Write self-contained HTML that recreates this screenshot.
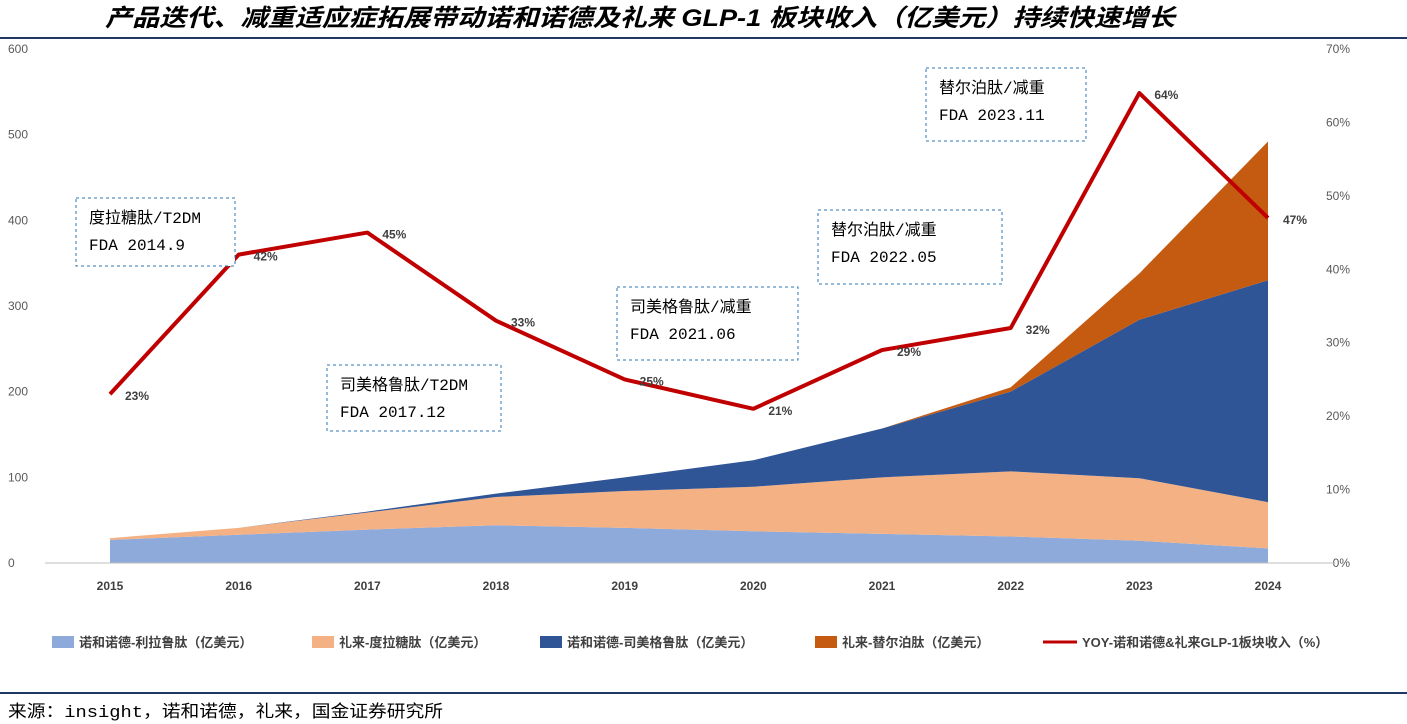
<!DOCTYPE html>
<html><head><meta charset="utf-8"><style>
body{margin:0;background:#fff;font-family:"Liberation Sans","Noto Sans CJK SC",sans-serif;}
#wrap{position:relative;width:1407px;height:724px;overflow:hidden;}
</style></head><body>
<div id="wrap">
<svg id="c" width="1407" height="724"></svg>
</div>
<script>
const years=["2015","2016","2017","2018","2019","2020","2021","2022","2023","2024"];
const lira=[27,33,39,44,41,37,34,31,26,17];
const dula=[2,8,20,33,43,52,66,76,73,54];
const sema=[0,0,1,4,16,31,57,93,185,259];
const tirz=[0,0,0,0,0,0,0,5,54,162];
const yoy=[23,42,45,33,25,21,29,32,64,47];
const leftTicks=[0,100,200,300,400,500,600];
const rightTicks=[0,10,20,30,40,50,60,70];
const seriesNames=["诺和诺德-利拉鲁肽（亿美元）","礼来-度拉糖肽（亿美元）","诺和诺德-司美格鲁肽（亿美元）","礼来-替尔泊肽（亿美元）","YOY-诺和诺德&礼来GLP-1板块收入（%）"];
const colors=["#8eaadb","#f4b183","#2f5597","#c55a11","#c00000"];
const notes=[["度拉糖肽/T2DM","FDA 2014.9",76,198,159,68],["司美格鲁肽/T2DM","FDA 2017.12",327,365,174,66],["司美格鲁肽/减重","FDA 2021.06",617,287,181,73],["替尔泊肽/减重","FDA 2022.05",818,210,184,74],["替尔泊肽/减重","FDA 2023.11",926,68,160,73]];
const NS="http://www.w3.org/2000/svg",svg=document.getElementById('c');
function el(t,a,txt){const e=document.createElementNS(NS,t);for(const k in a)e.setAttribute(k,a[k]);if(txt!==undefined)e.textContent=txt;svg.appendChild(e);return e;}
const x0=110,dx=(1268-110)/9,y0=563,plotTop=49;
const X=i=>x0+i*dx, YL=v=>y0-v*(y0-plotTop)/600, YR=p=>y0-p*(y0-plotTop)/70;
let t=el('text',{x:105,y:26,'font-size':24,'font-weight':'bold','font-style':'italic',fill:'#000',textLength:1070,lengthAdjust:'spacingAndGlyphs'},"产品迭代、减重适应症拓展带动诺和诺德及礼来 GLP-1 板块收入（亿美元）持续快速增长");


el('line',{x1:0,y1:38,x2:1407,y2:38,stroke:'#1f3864','stroke-width':2});
leftTicks.forEach(v=>{const e=el('text',{x:8,y:YL(v)+4,'font-size':12,fill:'#595959'},v);

});
rightTicks.forEach(v=>{const e=el('text',{x:1350,y:YR(v)+4,'font-size':12,fill:'#595959','text-anchor':'end'},v+'%');

});
const stacks=[lira,dula,sema,tirz];let base=years.map(()=>0);
stacks.forEach((s,k)=>{const topv=base.map((b,i)=>b+s[i]);let d='M'+years.map((_,i)=>X(i)+','+YL(topv[i])).join('L');for(let i=years.length-1;i>=0;i--)d+='L'+X(i)+','+YL(base[i]);d+='Z';const p=el('path',{d,fill:colors[k]});

base=topv;});
el('line',{x1:45,y1:y0,x2:1335,y2:y0,stroke:'#bfbfbf'});
years.forEach((y,i)=>{const e=el('text',{x:X(i),y:590,'font-size':12,'font-weight':'bold',fill:'#404040','text-anchor':'middle'},y);

});
const ln=el('polyline',{points:yoy.map((v,i)=>X(i)+','+YR(v)).join(' '),fill:'none',stroke:colors[4],'stroke-width':4,'stroke-linejoin':'round'});


yoy.forEach((v,i)=>{const e=el('text',{x:X(i)+15,y:YR(v)+6,'font-size':12,'font-weight':'bold',fill:'#404040'},v+'%');

});
notes.forEach(n=>{const r=el('rect',{x:n[2],y:n[3],width:n[4],height:n[5],fill:'#fff',stroke:'#2e75b6','stroke-dasharray':'3,3'});


el('text',{x:n[2]+13,y:n[3]+25,'font-size':16,fill:'#000',"font-family":"Liberation Mono, Noto Sans CJK SC, monospace"},n[0]);el('text',{x:n[2]+13,y:n[3]+52,'font-size':16,fill:'#000',"font-family":"Liberation Mono, Noto Sans CJK SC, monospace"},n[1]);});
const lx=[52,312,540,815,1043];
seriesNames.forEach((s,k)=>{let m;if(k<4)m=el('rect',{x:lx[k],y:636,width:22,height:12,fill:colors[k]});else m=el('line',{x1:lx[k],y1:642,x2:lx[k]+34,y2:642,stroke:colors[4],'stroke-width':3});


const e=el('text',{x:lx[k]+(k<4?27:39),y:647,'font-size':13,'font-weight':'bold',fill:'#404040'},s);

});
el('line',{x1:0,y1:693,x2:1407,y2:693,stroke:'#1f3864','stroke-width':2});
const src=el('text',{x:8,y:717,'font-size':17,fill:'#000',textLength:435,lengthAdjust:'spacingAndGlyphs',"font-family":"Liberation Mono, Noto Sans CJK SC, monospace"},"来源：insight，诺和诺德，礼来，国金证券研究所");


</script>
</body></html>
